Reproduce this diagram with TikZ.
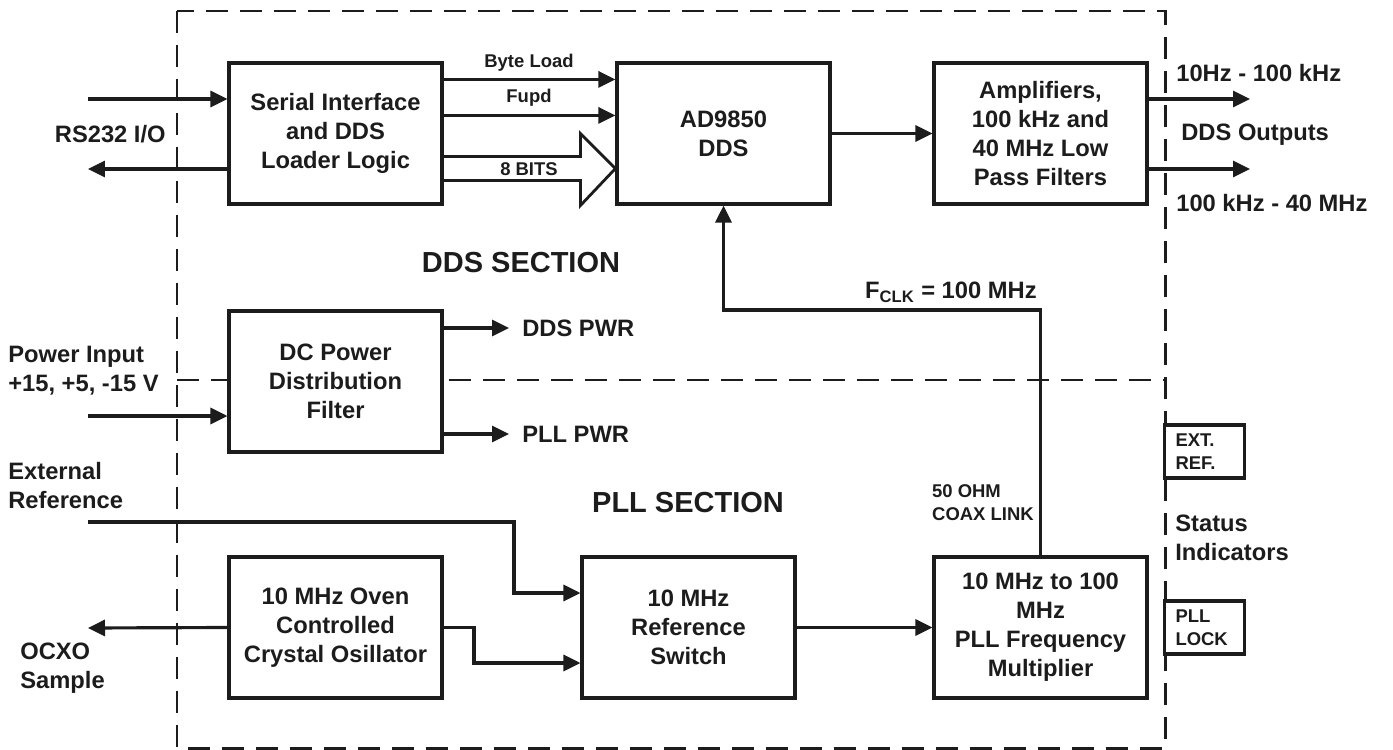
\documentclass[tikz,border=0pt]{standalone}
\usepackage{fontspec}
\setmainfont{Liberation Sans}
\usetikzlibrary{arrows.meta,calc}

\definecolor{ink}{RGB}{28,28,28}

\tikzset{
  blk/.style={draw, line width=1.8pt, fill=white, align=center,
    minimum width=4.26cm, minimum height=2.82cm, inner sep=0pt},
  ind/.style={draw, line width=1.8pt, fill=white, align=left,
    minimum width=1.6cm, minimum height=1.06cm, inner xsep=0.22cm,
    text width=1.16cm, font=\fontsize{10.5}{13}\selectfont\bfseries},
  lbl/.style={inner sep=0pt, align=left},
  small/.style={inner sep=0pt, align=left, font=\fontsize{10.5}{13}\selectfont\bfseries},
  sec/.style={inner sep=0pt, font=\fontsize{16.5}{20}\selectfont\bfseries},
  sect/.style={line width=1.7pt, dash pattern=on 0.44cm off 0.24cm},
  arr/.style={line width=1.8pt, -{Triangle[length=0.34cm,width=0.32cm]}}
}

\begin{document}
\begin{tikzpicture}[x=0.02cm, y=-0.02cm, color=ink,
    font=\fontsize{13.5}{16.5}\selectfont\bfseries]
  \useasboundingbox (0,0) rectangle (1393,750);

  % section frame
  \draw[sect] (177,11) rectangle (1165,748);
  \draw[sect] (177,380) -- (1165,380);

  % DDS section
  \node[blk] (serial) at (335.5,133.5) {Serial Interface\\and DDS\\Loader Logic};
  \node[blk] (dds) at (723.5,133.5) {AD9850\\DDS};
  \node[blk] (amp) at (1040.5,133.5) {Amplifiers,\\100 kHz and\\40 MHz Low\\Pass Filters};
  \node[blk] (dcpwr) at (335.5,381.5) {DC Power\\Distribution\\Filter};
  \node[sec] (ddssec) at (521,263) {DDS SECTION};

  % PLL section
  \node[blk] (ocxo) at (335.5,627.5) {10 MHz Oven\\Controlled\\Crystal Osillator};
  \node[blk] (refsw) at (688.5,627.5) {10 MHz\\Reference\\Switch};
  \node[blk] (pllmul) at (1040.5,627.5) {10 MHz to 100\\MHz\\PLL Frequency\\Multiplier};
  \node[sec] (pllsec) at (688,503) {PLL SECTION};

  % status indicators
  \node[ind] (extref) at (1204.5,451.5) {EXT.\\REF.};
  \node[ind] (plllock) at (1204.5,627.5) {PLL\\LOCK};
  \node[lbl, anchor=west] (statlbl) at (1175,538) {Status\\Indicators};

  % outside labels
  \node[lbl, anchor=east] (rslbl) at (166,134) {RS232 I/O};
  \node[lbl, anchor=west] (pwrlbl) at (8,371) {Power Input\\+15, +5, -15 V};
  \node[lbl, anchor=west] (extlbl) at (8,486) {External\\Reference};
  \node[lbl, anchor=west] (ocxolbl) at (20,668) {OCXO\\Sample};
  \node[lbl, anchor=west] (out1) at (1176,73) {10Hz - 100 kHz};
  \node[lbl, anchor=west] (outlbl) at (1181,135) {DDS Outputs};
  \node[lbl, anchor=west] (out2) at (1176,203) {100 kHz - 40 MHz};
  \node[lbl, anchor=west] (ddspwr) at (522,328) {DDS PWR};
  \node[lbl, anchor=west] (pllpwr) at (522,434) {PLL PWR};
  \node[lbl, anchor=east] (fclk) at (1037,292) {F\textsubscript{CLK} = 100 MHz};
  \node[small, anchor=east] (coax) at (1034,503) {50 OHM\\COAX LINK};

  % bus labels
  \node[small] (bytelbl) at (529,63) {Byte Load};
  \node[small] (fupdlbl) at (529,98) {Fupd};
  \node[small] (bitslbl) at (529,169) {8 BITS};

  % free ends
  \coordinate (rsin) at (88,99);
  \coordinate (rsout) at (88,169);
  \coordinate (pwrin) at (88,416);
  \coordinate (extin) at (88,522);
  \coordinate (extbend) at (514,593);
  \coordinate (ocxoout) at (88,628);
  \coordinate (ocxobend) at (474,663);
  \coordinate (outhi) at (1250,99);
  \coordinate (outlo) at (1250,169);
  \coordinate (fbturn) at (723.5,310);

  % connectors
  \draw[arr] (rsin) -- (serial.west |- rsin);
  \draw[arr] (serial.west |- rsout) -- (rsout);
  \draw[arr] ($(serial.north east)+(0,18)$) -- ($(dds.north west)+(0,18)$);
  \draw[arr] ($(serial.north east)+(0,54)$) -- ($(dds.north west)+(0,54)$);
  \draw[line width=1.6pt, line join=miter]
    ($(serial.east)+(0,23)$) -- ($(dds.west)+(-35,23)$) -- ($(dds.west)+(-35,0)$)
    -- ($(dds.west)+(0,35)$) -- ($(dds.west)+(-35,72)$) -- ($(dds.west)+(-35,47)$)
    -- ($(serial.east)+(0,47)$);
  \draw[arr] (dds) -- (amp);
  \draw[arr] (amp.east |- outhi) -- (outhi);
  \draw[arr] (amp.east |- outlo) -- (outlo);
  \draw[arr] (pllmul.north) |- (fbturn) -- (dds.south);

  \draw[arr] (pwrin) -- (dcpwr.west |- pwrin);
  \draw[arr] (dcpwr.east |- ddspwr) -- ([xshift=-0.26cm]ddspwr.west);
  \draw[arr] (dcpwr.east |- pllpwr) -- ([xshift=-0.26cm]pllpwr.west);

  \draw[arr] (extin) -| (extbend) -- (refsw.west |- extbend);
  \draw[arr] (ocxo.west) -- (ocxoout);
  \draw[arr] (ocxo.east) -| (ocxobend) -- (refsw.west |- ocxobend);
  \draw[arr] (refsw) -- (pllmul);
\end{tikzpicture}
\end{document}
